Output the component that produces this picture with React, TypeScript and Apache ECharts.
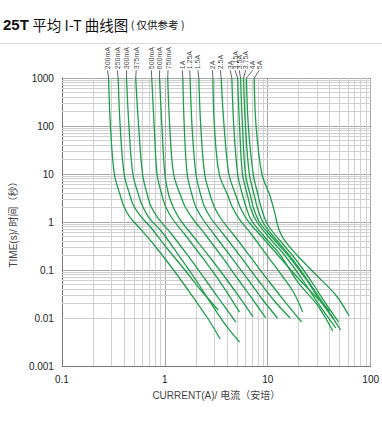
import React, { useEffect, useRef } from 'react';
import * as echarts from 'echarts';

// Fuse ratings (labels above the plot)
const ratings = ['200mA', '250mA', '300mA', '375mA', '500mA', '600mA', '750mA', '1A', '1.25A', '1.5A', '2A', '2.5A', '3A', '3.15A', '3.5A', '3.75A', '4A', '5A'];

// Current (A) where each rating label sits above the plot
const labelCurrents = [0.2775, 0.345, 0.4258, 0.527, 0.738, 0.891, 1.074, 1.478, 1.748, 2.093, 2.9, 3.47, 4.31, 4.81, 5.29, 6.11, 7.17, 8.28];

// Curves: [current (A), time (s)]
const c200mA = [[0.284, 1000], [0.296, 100], [0.323, 10], [0.368, 3.65], [0.402, 2.05], [0.457, 1.27], [0.568, 0.75], [0.788, 0.332], [1.216, 0.1], [1.877, 0.0274], [2.6, 0.01], [3.45, 0.00365]];
const c250mA = [[0.352, 1000], [0.368, 100], [0.402, 10], [0.457, 3.65], [0.499, 2.15], [0.581, 1.33], [0.738, 0.75], [1.044, 0.287], [1.511, 0.11], [2.234, 0.0383], [3.3, 0.0147]];
const c300mA = [[0.424, 1000], [0.448, 100], [0.489, 10], [0.556, 3.65], [0.607, 2.15], [0.706, 1.21], [0.937, 0.619], [1.356, 0.205], [2.093, 0.0536], [3.094, 0.0147], [4.02, 0.0065], [5.32, 0.00316]];
const c375mA = [[0.521, 1000], [0.556, 100], [0.607, 10], [0.676, 3.65], [0.738, 2.05], [0.859, 1.21], [1.139, 0.59], [1.684, 0.196], [2.49, 0.0619], [3.6, 0.0205], [4.884, 0.00825]];
const c500mA = [[0.746, 1000], [0.788, 100], [0.84, 10], [0.937, 3.65], [1.022, 2.05], [1.19, 1.155], [1.578, 0.536], [2.333, 0.178], [3.45, 0.0562], [5.32, 0.0133]];
const c600mA = [[0.887, 1000], [0.937, 100], [1.0, 10], [1.091, 3.65], [1.216, 1.96], [1.416, 1.1], [1.877, 0.511], [2.775, 0.178], [4.02, 0.0619], [5.56, 0.0237], [7.22, 0.0105]];
const c750mA = [[1.067, 1000], [1.115, 100], [1.216, 10], [1.416, 3.65], [1.578, 2.05], [1.877, 1.155], [2.49, 0.536], [3.6, 0.187], [5.21, 0.0619], [7.22, 0.0237], [9.57, 0.01]];
const c1A = [[1.495, 1000], [1.544, 100], [1.648, 10], [1.837, 3.65], [2.004, 2.05], [2.333, 1.155], [3.094, 0.511], [4.477, 0.178], [6.48, 0.0619], [8.97, 0.0237], [12.42, 0.01]];
const c1_25A = [[1.759, 1000], [1.837, 100], [2.004, 10], [2.234, 3.65], [2.437, 2.05], [2.836, 1.155], [3.763, 0.536], [5.56, 0.178], [8.05, 0.0619], [11.39, 0.0237], [16.48, 0.01]];
const c1_5A = [[2.138, 1000], [2.234, 100], [2.437, 10], [2.758, 3.65], [3.03, 2.05], [3.525, 1.155], [4.677, 0.536], [6.91, 0.178], [10.2, 0.059], [14.78, 0.0215], [21.38, 0.00825]];
const c2A = [[2.93, 1000], [3.03, 100], [3.375, 10], [4.077, 3.65], [4.477, 2.15], [5.21, 1.21], [6.91, 0.562], [9.78, 0.205], [13.85, 0.075], [17.98, 0.0332], [21.86, 0.0133]];
const c2_5A = [[3.525, 1000], [3.763, 100], [4.195, 10], [4.884, 3.65], [5.44, 1.96], [6.34, 1.1], [8.97, 0.464], [13.27, 0.178], [20.47, 0.0619], [30.28, 0.0261], [40.15, 0.014]];
const c3A = [[4.477, 1000], [4.677, 100], [5.1, 10], [5.68, 3.65], [6.2, 1.96], [6.91, 1.1], [8.97, 0.536], [13.27, 0.205], [19.6, 0.0562], [30.28, 0.0187], [42.87, 0.00536]];
const c3_15A = [[5.1, 1000], [5.32, 100], [5.68, 10], [6.34, 3.65], [6.91, 1.78], [7.87, 1.0], [10.2, 0.487], [14.78, 0.196], [21.86, 0.0619], [31.62, 0.0187], [45.73, 0.0062]];
const c3_5A = [[5.44, 1000], [5.68, 100], [6.07, 10], [6.76, 3.65], [7.38, 1.78], [8.41, 0.953], [11.15, 0.464], [16.48, 0.178], [23.83, 0.0619], [33.03, 0.0215], [43.81, 0.00953]];
const c3_75A = [[5.81, 1000], [6.07, 100], [6.62, 10], [7.38, 3.65], [8.05, 1.78], [9.17, 0.908], [12.16, 0.422], [17.59, 0.162], [25.45, 0.0536], [36.03, 0.0178], [51.0, 0.00562]];
const c4A = [[6.2, 1000], [6.48, 100], [7.22, 10], [8.05, 3.65], [8.78, 1.78], [10.0, 0.866], [13.27, 0.402], [19.19, 0.154], [27.17, 0.0536], [36.83, 0.0196], [48.85, 0.00825]];
const c5A = [[7.38, 1000], [7.7, 100], [8.78, 10], [10.45, 3.65], [11.64, 1.62], [12.7, 0.75], [14.46, 0.422], [19.19, 0.205], [29.63, 0.0787], [45.73, 0.0301], [61.9, 0.011]];

const curves = [c200mA, c250mA, c300mA, c375mA, c500mA, c600mA, c750mA, c1A, c1_25A, c1_5A, c2A, c2_5A, c3A, c3_15A, c3_5A, c3_75A, c4A, c5A];

// Axis ranges (decades)
const xDecades = [0.1, 1, 10];
const yDecades = [0.001, 0.01, 0.1, 1, 10, 100];
const minorMultipliers = [2, 3, 4, 5, 6, 7, 8, 9];

const LABEL_TIME = 1450;

export default function App() {
  const ref = useRef<HTMLDivElement>(null);
  useEffect(() => {
    document.body.style.margin = '0';
    const chart = echarts.init(ref.current!, undefined, { renderer: 'svg' });
    const green = '#1e9e4a';
    const font = 'Liberation Sans, Arial, Noto Sans CJK SC, sans-serif';

    const xMinor: number[] = [];
    xDecades.forEach((d) => minorMultipliers.forEach((m) => xMinor.push(+(d * m).toPrecision(3))));
    const yMinor: number[] = [];
    yDecades.forEach((d) => minorMultipliers.forEach((m) => yMinor.push(+(d * m).toPrecision(3))));

    const series: any[] = [];
    series.push({
      type: 'line',
      data: [[1, 1]],
      symbol: 'none',
      lineStyle: { opacity: 0 },
      silent: true,
      z: 1,
      markLine: {
        z: 1,
        symbol: 'none',
        silent: true,
        animation: false,
        label: { show: false },
        lineStyle: { color: '#d0d0d0', width: 1, type: 'solid' },
        data: [...xMinor.map((v) => ({ xAxis: v })), ...yMinor.map((v) => ({ yAxis: v }))],
      },
    });
    curves.forEach((c, i) => {
      series.push({
        type: 'line',
        name: ratings[i],
        data: c,
        smooth: 0.35,
        symbol: 'none',
        lineStyle: { color: green, width: 1.3 },
        z: 6,
      });
      series.push({
        type: 'line',
        data: [[labelCurrents[i], LABEL_TIME], [c[0][0], c[0][1]]],
        symbol: 'none',
        clip: false,
        lineStyle: { color: '#222', width: 0.7 },
        z: 6,
      });
    });
    series.push({
      type: 'scatter',
      clip: false,
      symbolSize: 0,
      z: 7,
      data: ratings.map((r, i) => ({ name: r, value: [labelCurrents[i], LABEL_TIME] })),
      label: {
        show: true,
        formatter: '{b}',
        position: 'top',
        distance: 1,
        rotate: 90,
        align: 'left',
        verticalAlign: 'middle',
        fontSize: 7,
        color: '#111',
        fontFamily: font,
      },
    });

    const plain = (v: number) => String(v);

    chart.setOption({
      animation: false,
      backgroundColor: '#fff',
      grid: { left: 55, right: 10, top: 78, bottom: 62 },
      graphic: [
        {
          type: 'text',
          left: 3,
          top: 17,
          style: {
            text: '{b|25T} {n|平均 I-T 曲线图}{s| ( 仅供参考 )}',
            rich: {
              b: { fontSize: 15, fontWeight: 'bold', fontFamily: 'Liberation Sans, Arial', fill: '#111' },
              n: { fontSize: 14.5, fontFamily: 'Noto Sans CJK SC', fill: '#111' },
              s: { fontSize: 10.5, fontFamily: 'Noto Sans CJK SC', fill: '#111' },
            },
          },
        },
        {
          type: 'line',
          shape: { x1: 0, y1: 43.5, x2: 382, y2: 43.5 },
          style: { stroke: '#dcdcdc', lineWidth: 1 },
        },
      ],
      xAxis: {
        type: 'log',
        logBase: 10,
        min: 0.1,
        max: 100,
        name: 'CURRENT(A)/ 电流（安培）',
        nameLocation: 'middle',
        nameGap: 24,
        nameTextStyle: { fontSize: 10, color: '#444', fontFamily: font },
        axisLine: { lineStyle: { color: '#777', width: 1 } },
        axisTick: { show: false },
        axisLabel: { fontSize: 10, color: '#222', fontFamily: font, margin: 8, formatter: plain },
        splitLine: { show: true, lineStyle: { color: '#a8a8a8', width: 1 } },
      },
      yAxis: {
        type: 'log',
        logBase: 10,
        min: 0.001,
        max: 1000,
        name: 'TIME(s)/ 时间（秒）',
        nameLocation: 'middle',
        nameRotate: 90,
        nameGap: 34,
        nameTextStyle: { fontSize: 10, color: '#444', fontFamily: font },
        axisLine: { lineStyle: { color: '#777', width: 1 } },
        axisTick: { show: false },
        axisLabel: { fontSize: 10, color: '#222', fontFamily: font, margin: 8, formatter: plain },
        splitLine: { show: true, lineStyle: { color: '#a8a8a8', width: 1 } },
      },
      series,
    });
    return () => chart.dispose();
  }, []);
  return <div ref={ref} style={{ width: 382, height: 428 }} />;
}
